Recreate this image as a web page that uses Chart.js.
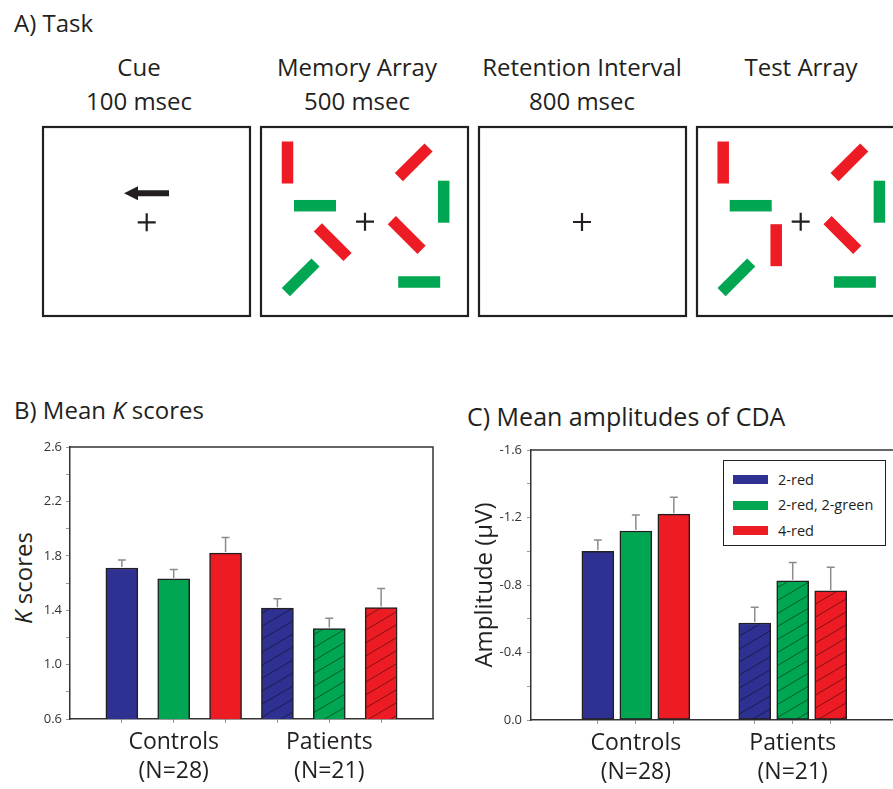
<!DOCTYPE html>
<html>
<head>
<meta charset="utf-8">
<script src="https://cdn.jsdelivr.net/npm/chart.js@4/dist/chart.umd.min.js"></script>
<style>
body { margin: 0; background: #fff; }
#page { position: relative; width: 893px; height: 789px; overflow: hidden; font-family: "Open Sans", sans-serif; color: #231f20; }
.t { position: absolute; white-space: nowrap; font-size: 24px; line-height: 24px; }
.c { transform: translateX(-50%); }
#task { position: absolute; left: 0; top: 0; }
canvas { position: absolute; }
#legendC { position: absolute; left: 723px; top: 460px; width: 161px; height: 84px; border: 1.5px solid #231f20; background: #fff; }
#legendC div { position: absolute; left: 9px; height: 20px; line-height: 20px; font-size: 14.5px; white-space: nowrap; }
#legendC span { display: inline-block; width: 35px; height: 9px; margin-right: 10px; vertical-align: middle; position: relative; top: -1px; }
</style>
</head>
<body>
<div id="page">
  <div class="t" style="left:14px;top:11px">A) Task</div>
  <div class="t c" style="left:139px;top:55px">Cue</div>
  <div class="t c" style="left:139px;top:89px">100 msec</div>
  <div class="t c" style="left:357px;top:55px">Memory Array</div>
  <div class="t c" style="left:357px;top:89px">500 msec</div>
  <div class="t c" style="left:582px;top:55px">Retention Interval</div>
  <div class="t c" style="left:582px;top:89px">800 msec</div>
  <div class="t c" style="left:801px;top:55px">Test Array</div>

  <svg id="task" width="893" height="330"></svg>

  <div class="t" style="left:14px;top:398px">B) Mean <i>K</i> scores</div>
  <div class="t" style="left:467px;top:404px;font-size:25px">C) Mean amplitudes of CDA</div>
  <div class="t" style="left:23px;top:578px;transform:translate(-50%,-50%) rotate(-90deg)"><i>K</i> scores</div>

  <canvas id="chartB" width="450" height="359" style="left:0;top:430px"></canvas>
  <canvas id="chartC" width="443" height="359" style="left:450px;top:430px"></canvas>
  <div id="legendC"></div>
</div>

<script>
// datos
var groups = ["Controls", "Patients"];
var groupN = ["(N=28)", "(N=21)"];
var conditions = ["2-red", "2-red, 2-green", "4-red"];
var colors = ["#2e3192", "#00a651", "#ed1c24"];

var kControls = [1.71, 1.63, 1.82];
var kControlsSE = [0.06, 0.07, 0.115];
var kPatients = [1.415, 1.265, 1.42];
var kPatientsSE = [0.07, 0.075, 0.14];
var kTicks = [0.6, 1.0, 1.4, 1.8, 2.2, 2.6];

var cdaControls = [-1.00, -1.12, -1.22];
var cdaControlsSE = [0.067, 0.095, 0.10];
var cdaPatients = [-0.575, -0.825, -0.765];
var cdaPatientsSE = [0.093, 0.108, 0.14];
var cdaTicks = [0.0, -0.4, -0.8, -1.2, -1.6];

// ---- panel A: esquema de la tarea ----
var svg = document.getElementById("task");
var ns = "http://www.w3.org/2000/svg";
function el(tag, attrs) {
    var e = document.createElementNS(ns, tag);
    for (var k in attrs) e.setAttribute(k, attrs[k]);
    svg.appendChild(e);
    return e;
}
function cross(x, y) {
    el("path", { d: "M" + (x - 9) + " " + y + "H" + (x + 9) + "M" + x + " " + (y - 9) + "V" + (y + 9), stroke: "#231f20", "stroke-width": 2.2, fill: "none" });
}
function stick(x, y, ang, color) {
    el("rect", { x: x - 21, y: y - 5.75, width: 42, height: 11.5, fill: color, transform: "rotate(" + ang + " " + x + " " + y + ")" });
}
[43, 261, 479, 697].forEach(function (x) {
    el("rect", { x: x, y: 127, width: 207, height: 189, fill: "none", stroke: "#231f20", "stroke-width": 2.2 });
});
// cue
el("path", { d: "M124 193.3 L138 186.3 L138 190.3 L169 190.3 L169 196.3 L138 196.3 L138 200.3 Z", fill: "#231f20" });
cross(146.7, 222.3);
cross(582, 222);

// memory / test array sticks relative to the fixation cross
var R = colors[2], G = colors[1];
var memSticks = [
    [-77.5, -59.2, 90, R], [-50, -16, 0, G], [-32.3, 20.5, 45, R], [-64.3, 55.6, -45, G],
    [48.7, -59.4, -45, R], [78.7, -20, 90, G], [41.7, 13.3, 45, R], [54.2, 60.3, 0, G]
];
var testSticks = memSticks.slice();
testSticks[2] = [-24.5, 23.5, 90, R];
function arrayBox(cx, cy, list) {
    list.forEach(function (s) { stick(cx + s[0], cy + s[1], s[2], s[3]); });
    cross(cx, cy);
}
arrayBox(365, 221.7, memSticks);
arrayBox(800.7, 221.7, testSticks);

// ---- graficas ----
function hatch(color) {
    var c = document.createElement("canvas");
    c.width = 22; c.height = 13;
    var g = c.getContext("2d");
    g.fillStyle = color;
    g.fillRect(0, 0, 22, 13);
    g.strokeStyle = "rgba(0,0,0,0.45)";
    g.lineWidth = 1;
    for (var k = -1; k <= 1; k++) {
        g.beginPath();
        g.moveTo(0, 13 * (1 + k));
        g.lineTo(22, 13 * k);
        g.stroke();
    }
    return document.createElement("canvas").getContext("2d").createPattern(c, "repeat");
}

function makeDatasets(ctrl, pat, ctrlSE, patSE, pos) {
    return conditions.map(function (name, i) {
        return {
            label: name,
            data: [{ x: pos[0] + i - 1, y: ctrl[i] }, { x: pos[1] + i - 1, y: pat[i] }],
            se: [ctrlSE[i], patSE[i]],
            backgroundColor: [colors[i], hatch(colors[i])],
            borderColor: "#231f20",
            borderWidth: 1.5,
            borderSkipped: false,
            barThickness: 32,
            grouped: false
        };
    });
}

var errorBars = {
    id: "errorBars",
    afterDatasetsDraw: function (chart) {
        var g = chart.ctx, y = chart.scales.y;
        g.save();
        g.strokeStyle = "#8c8c8c";
        g.lineWidth = 1.5;
        chart.data.datasets.forEach(function (ds, di) {
            chart.getDatasetMeta(di).data.forEach(function (bar, j) {
                var v = ds.data[j].y, e = ds.se[j];
                var tip = y.getPixelForValue(v < 0 ? v - e : v + e);
                g.beginPath();
                g.moveTo(bar.x, bar.y - 1);
                g.lineTo(bar.x, tip);
                g.moveTo(bar.x - 4, tip);
                g.lineTo(bar.x + 4, tip);
                g.stroke();
            });
        });
        g.restore();
    }
};

var frame = {
    id: "frame",
    afterDraw: function (chart, args, opts) {
        var a = chart.chartArea, g = chart.ctx;
        g.save();
        g.strokeStyle = "#333";
        g.lineWidth = 1.5;
        g.beginPath();
        g.moveTo(a.left, a.top);
        g.lineTo(a.right, a.top);
        if (opts.right) g.lineTo(a.right, a.bottom);
        g.stroke();
        g.restore();
    }
};

function options(cfg) {
    return {
        responsive: false,
        animation: false,
        layout: { padding: cfg.padding },
        plugins: { legend: { display: false }, tooltip: { enabled: false }, frame: { right: cfg.right } },
        scales: {
            x: {
                type: "linear",
                min: 0,
                max: cfg.xmax,
                offset: false,
                afterBuildTicks: function (s) {
                    var t = [];
                    cfg.pos.forEach(function (p) { t.push({ value: p - 1 }, { value: p }, { value: p + 1 }); });
                    s.ticks = t;
                },
                afterFit: function (s) { s.height = cfg.xh; },
                grid: { drawOnChartArea: false, offset: false, tickLength: 4, tickColor: "#999" },
                border: { color: "#333", width: 1.5 },
                ticks: {
                    autoSkip: false,
                    maxRotation: 0,
                    padding: 5,
                    color: "#231f20",
                    font: { family: "Open Sans", size: 23, lineHeight: 1.25 },
                    callback: function (v) {
                        var gi = cfg.pos.indexOf(v);
                        return gi >= 0 ? [groups[gi], groupN[gi]] : "";
                    }
                }
            },
            y: {
                min: cfg.ymin,
                max: cfg.ymax,
                reverse: cfg.reverse,
                afterFit: function (s) { s.width = cfg.yw; },
                title: cfg.title,
                grid: { drawOnChartArea: false, tickLength: 4, tickColor: "#999" },
                border: { color: "#333", width: 1.5 },
                ticks: {
                    stepSize: 0.2,
                    padding: cfg.ypad,
                    color: "#333",
                    font: { family: "Open Sans", size: 13 },
                    callback: function (v) {
                        var hit = cfg.labels.some(function (t) { return Math.abs(t - v) < 1e-6; });
                        return hit ? Math.abs(v) < 1e-9 ? "0.0" : v.toFixed(1) : "";
                    }
                }
            }
        }
    };
}

var posB = [2, 5];
new Chart(document.getElementById("chartB").getContext("2d"), {
    type: "bar",
    data: { datasets: makeDatasets(kControls, kPatients, kControlsSE, kPatientsSE, posB) },
    options: options({ padding: { left: 0, right: 17, top: 17, bottom: 0 }, right: true, xmax: 7, pos: posB, xh: 70,
        ymin: 0.6, ymax: 2.6, reverse: false, yw: 70, ypad: 4, labels: kTicks, title: { display: false } }),
    plugins: [errorBars, frame]
});

var posC = [2.76, 6.89];
new Chart(document.getElementById("chartC").getContext("2d"), {
    type: "bar",
    data: { datasets: makeDatasets(cdaControls, cdaPatients, cdaControlsSE, cdaPatientsSE, posC) },
    options: options({ padding: { left: 0, right: 0, top: 20, bottom: 0 }, right: false, xmax: 9.53, pos: posC, xh: 69,
        ymin: -1.6, ymax: 0, reverse: true, yw: 81, ypad: 5, labels: cdaTicks,
        title: { display: true, text: "Amplitude (μV)", color: "#231f20", padding: { top: 21, bottom: 0 },
            font: { family: "Open Sans", size: 24 } } }),
    plugins: [errorBars, frame]
});

// leyenda del panel C
var leg = document.getElementById("legendC");
conditions.forEach(function (name, i) {
    var d = document.createElement("div");
    d.style.top = (8.5 + i * 25.5) + "px";
    d.innerHTML = '<span style="background:' + colors[i] + '"></span>' + name;
    leg.appendChild(d);
});
</script>
</body>
</html>
